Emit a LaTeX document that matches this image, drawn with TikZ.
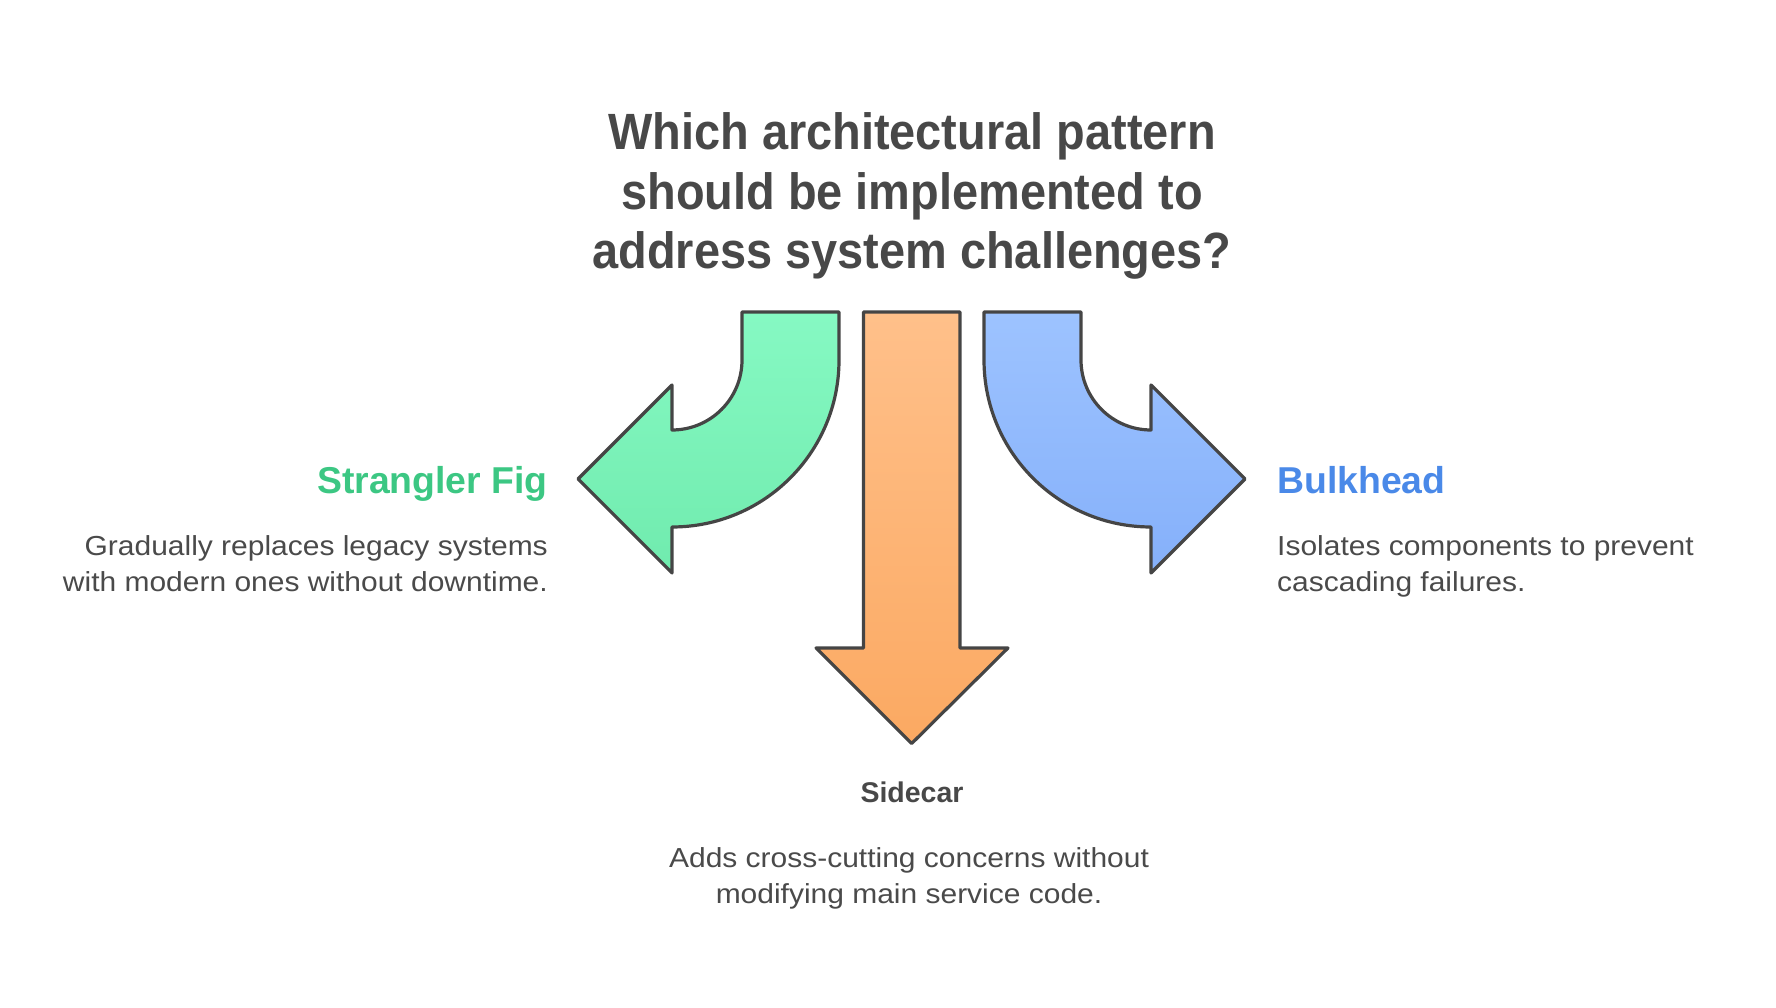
\documentclass[tikz,border=0pt]{standalone}
\usepackage{fontspec}
\setmainfont{Liberation Sans}
\setsansfont{Liberation Sans}
\newfontfamily\titlefont[FakeStretch=0.92]{Liberation Sans}
\newfontfamily\descfont[FakeStretch=1.09]{Liberation Sans}
\begin{document}
\begin{tikzpicture}[x=1pt,y=1pt,
  arrowshape/.style={draw=strokegray,line width=3.2pt,line join=round},
  titletext/.style={font=\titlefont\fontsize{51}{59.5}\selectfont\bfseries,text=titlegray,align=center,inner sep=0pt},
  headtext/.style={font=\fontsize{37.4}{42}\selectfont\bfseries,inner sep=0pt},
  desctext/.style={font=\descfont\fontsize{27.5}{35.5}\selectfont,text=descgray,inner sep=0pt}]
\definecolor{strokegray}{HTML}{454545}
\definecolor{titlegray}{HTML}{484848}
\definecolor{descgray}{HTML}{4A4A4A}
\definecolor{greentop}{HTML}{86F9C3}
\definecolor{greenbot}{HTML}{70EBAE}
\definecolor{orangetop}{HTML}{FFC08A}
\definecolor{orangebot}{HTML}{FBA962}
\definecolor{bluetop}{HTML}{9DC3FF}
\definecolor{bluebot}{HTML}{85B0FA}
\definecolor{greentext}{HTML}{3CC783}
\definecolor{bluetext}{HTML}{4A89E8}
\useasboundingbox (0,0) rectangle (1776,1008);
% green arrow (left)
\path[arrowshape,top color=greentop,bottom color=greenbot]
  (742,696) -- (839,696) -- (839,648) arc[start angle=0,end angle=-90,radius=167]
  -- (672,435) -- (578,529) -- (672,623) -- (672,578)
  arc[start angle=-90,end angle=0,radius=70] -- cycle;
% blue arrow (right)
\path[arrowshape,top color=bluetop,bottom color=bluebot]
  (1081,696) -- (984,696) -- (984,648) arc[start angle=180,end angle=270,radius=167]
  -- (1151,435) -- (1245,529) -- (1151,623) -- (1151,578)
  arc[start angle=270,end angle=180,radius=70] -- cycle;
% orange arrow (down)
\path[arrowshape,top color=orangetop,bottom color=orangebot]
  (863.5,696) -- (960,696) -- (960,360) -- (1008,360) -- (911.7,264.5)
  -- (816,360) -- (863.5,360) -- cycle;
% texts (base anchor of a multi-line node = baseline of its last line)
\node[titletext,anchor=base] (title) at (912,739)
  {Which architectural pattern\\should be implemented to\\address system challenges?};
\node[headtext,text=greentext,anchor=base east] (sfig) at (548,514) {Strangler Fig};
\node[desctext,align=right,anchor=base east] (sfigdesc) at (548,416.5)
  {Gradually replaces legacy systems\\with modern ones without downtime.};
\node[headtext,text=bluetext,anchor=base west] (bulk) at (1277,514) {Bulkhead};
\node[desctext,align=left,anchor=base west] (bulkdesc) at (1277,416.5)
  {Isolates components to prevent\\cascading failures.};
\node[font=\fontsize{28.5}{32}\selectfont\bfseries,text=titlegray,inner sep=0pt,anchor=base] (side) at (912,205.7) {Sidecar};
\node[desctext,align=center,anchor=base] (sidedesc) at (909,104.5)
  {Adds cross-cutting concerns without\\modifying main service code.};
\end{tikzpicture}
\end{document}
